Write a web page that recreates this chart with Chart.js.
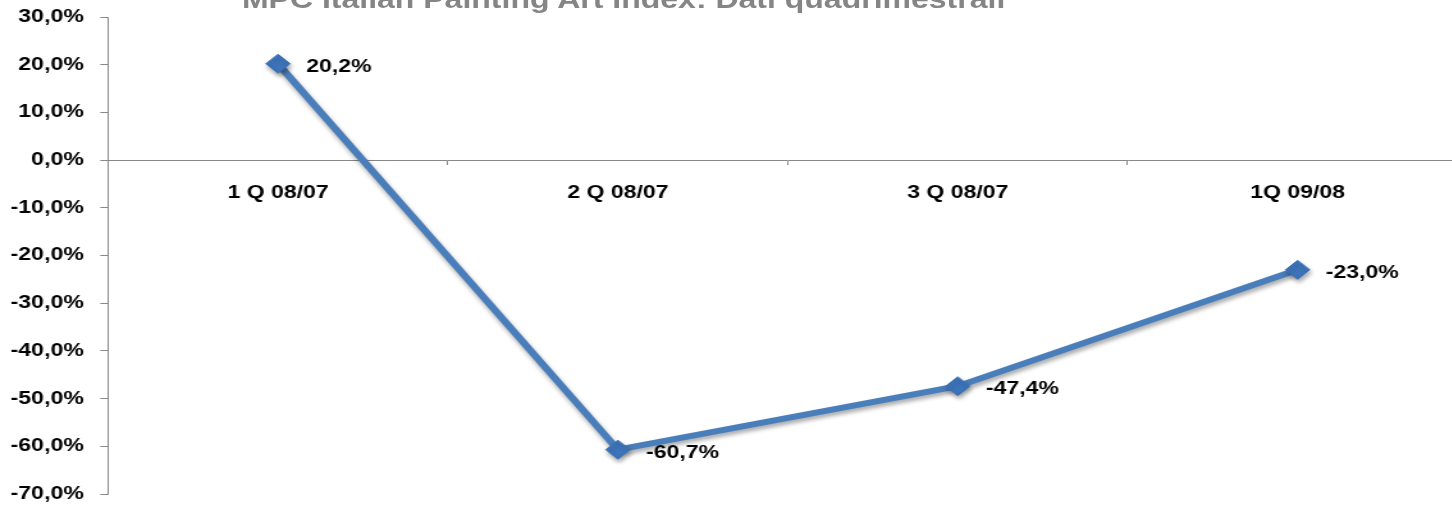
<!DOCTYPE html>
<html>
<head>
<meta charset="utf-8">
<script src="https://cdn.jsdelivr.net/npm/chart.js@4/dist/chart.umd.min.js"></script>
<style>
  html, body { margin: 0; padding: 0; background: #fff; overflow: hidden; width: 1452px; height: 506px; }
  #wrap { position: absolute; left: 0; top: 0; width: 1157px; height: 506px; transform: scaleX(1.28); transform-origin: 0 0; }
  #title { position: absolute; left: 189px; top: -13px; white-space: nowrap; font: bold 25px "Liberation Sans", Arial, sans-serif; color: #858585; line-height: 25px; }
  #box { position: absolute; left: 0; top: 0; width: 1157px; height: 506px; }
</style>
</head>
<body>
<div id="wrap">
  <div id="box"><canvas id="c"></canvas></div>
  <div id="title">MPC Italian Painting Art Index: Dati quadrimestrali</div>
</div>
<script>
const categories = ["1 Q 08/07", "2 Q 08/07", "3 Q 08/07", "1Q 09/08"];
const values = [20.2, -60.7, -47.4, -23.0];
const yMin = -70, yMax = 30, yStep = 10;

function fmt(v) { return v.toFixed(1).replace('.', ',') + '%'; }

const shadowPlugin = {
  id: 'shadow',
  beforeDatasetsDraw(chart) {
    const ctx = chart.ctx;
    ctx.save();
    ctx.shadowColor = 'rgba(0,0,0,0.35)';
    ctx.shadowBlur = 4;
    ctx.shadowOffsetX = 1;
    ctx.shadowOffsetY = 3;
  },
  afterDatasetsDraw(chart) {
    const ctx = chart.ctx;
    ctx.restore();
    const meta = chart.getDatasetMeta(0);
    ctx.save();
    ctx.font = 'bold 18px "Liberation Sans", Arial, sans-serif';
    ctx.fillStyle = '#000';
    ctx.textAlign = 'left';
    ctx.textBaseline = 'middle';
    meta.data.forEach((pt, i) => {
      ctx.fillText(fmt(values[i]), pt.x + 22, pt.y + 3);
    });
    ctx.restore();
  }
};

new Chart(document.getElementById('c'), {
  type: 'line',
  data: {
    labels: categories,
    datasets: [{
      data: values,
      borderColor: '#4a7ebb',
      borderWidth: 6,
      pointStyle: 'rectRot',
      pointRadius: 9.5,
      pointBackgroundColor: '#3d74ba',
      pointBorderColor: '#3d74ba',
      pointBorderWidth: 1,
      tension: 0,
      fill: false
    }]
  },
  options: {
    responsive: true,
    maintainAspectRatio: false,
    devicePixelRatio: 1,
    animation: false,
    layout: { padding: { left: 0, right: 0, top: 17, bottom: 12 } },
    plugins: { legend: { display: false }, tooltip: { enabled: false }, title: { display: false } },
    scales: {
      x: {
        position: { y: 0 },
        offset: true,
        afterFit(scale) { scale.paddingLeft = 0; scale.paddingRight = 0; scale.paddingTop = 0; scale.paddingBottom = 0; },
        grid: { offset: true, drawOnChartArea: false, drawTicks: true, tickLength: 4, color: '#888' },
        border: { display: true, color: '#888', width: 1 },
        ticks: {
          color: '#000',
          font: { family: '"Liberation Sans", Arial, sans-serif', size: 18, weight: 'bold' },
          padding: 18,
          maxRotation: 0,
          autoSkip: false
        }
      },
      y: {
        min: yMin, max: yMax,
        afterFit(scale) { scale.width = 84.4; scale.paddingTop = 0; scale.paddingBottom = 0; scale.paddingLeft = 0; scale.paddingRight = 0; },
        grid: { drawOnChartArea: false, drawTicks: true, tickLength: 6, color: '#888' },
        border: { display: true, color: '#888', width: 1 },
        ticks: {
          stepSize: yStep,
          color: '#000',
          padding: 13,
          font: { family: '"Liberation Sans", Arial, sans-serif', size: 18, weight: 'bold' },
          callback: (v) => fmt(v)
        }
      }
    }
  },
  plugins: [shadowPlugin]
});
</script>
</body>
</html>
